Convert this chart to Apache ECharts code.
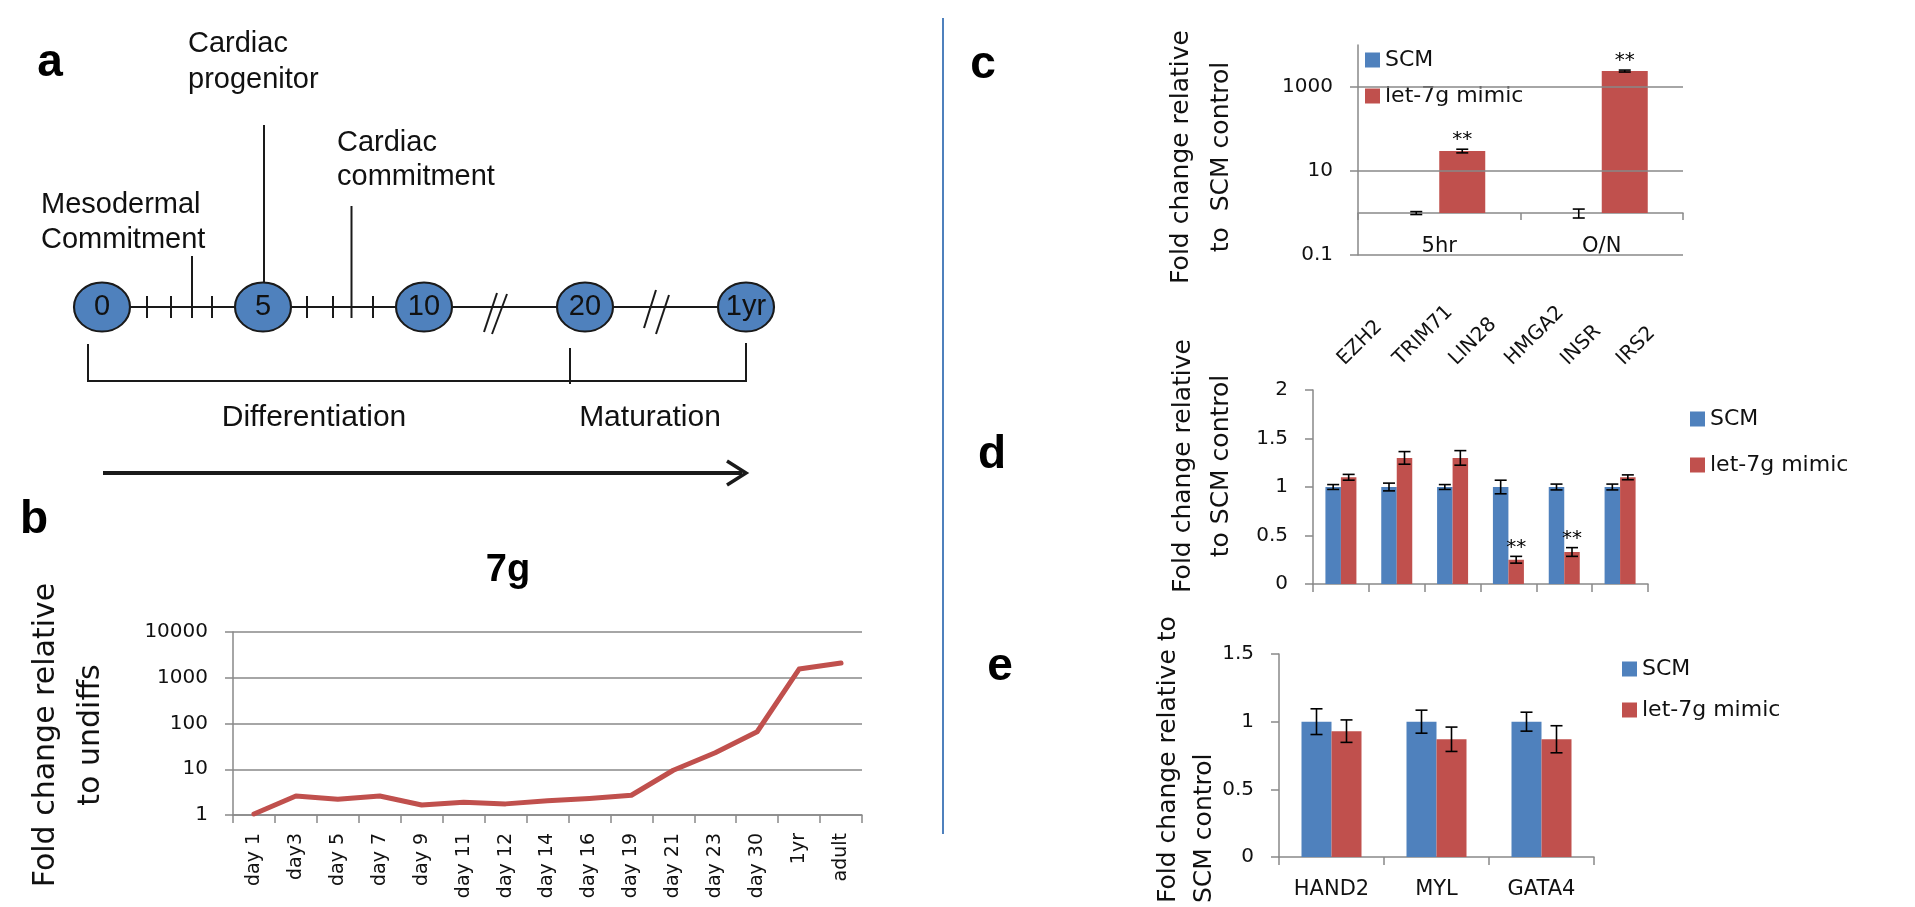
<!DOCTYPE html>
<html>
<head>
<meta charset="utf-8">
<script src="https://cdn.jsdelivr.net/npm/echarts@6/dist/echarts.min.js"></script>
<style>
  html, body { margin: 0; background: #fff; }
  #main { width: 1915px; height: 907px; }
</style>
</head>
<body>
<div id="main"></div>
<script>
// ---- data ----
// a: timeline stages
const stages = ['0', '5', '10', '20', '1yr']

// b: let-7g over differentiation
const days = ['day 1', 'day3', 'day 5', 'day 7', 'day 9', 'day 11', 'day 12', 'day 14', 'day 16', 'day 19', 'day 21', 'day 23', 'day 30', '1yr', 'adult']
const fold7g = [1.05, 2.6, 2.2, 2.6, 1.65, 1.9, 1.75, 2.05, 2.3, 2.7, 9.5, 23, 66, 1550, 2100]

// c: mimic transfection
const times = ['5hr', 'O/N']
const cScm = [1, 1]
const cScmErr = [0.08, 0.24]
const cMimic = [30, 2400]
const cMimicErr = [3, 130]
const cStars = ['**', '**']
const cGrid = [0.1, 10, 1000]

// d: let-7 targets
const genesD = ['EZH2', 'TRIM71', 'LIN28', 'HMGA2', 'INSR', 'IRS2']
const dScm = [1, 1, 1, 1, 1, 1]
const dScmErr = [0.025, 0.04, 0.025, 0.07, 0.03, 0.03]
const dMimic = [1.1, 1.3, 1.3, 0.25, 0.33, 1.1]
const dMimicErr = [0.03, 0.065, 0.075, 0.035, 0.045, 0.025]
const dStars = ['', '', '', '**', '**', '']

// e: cardiac markers
const genesE = ['HAND2', 'MYL', 'GATA4']
const eScm = [1, 1, 1]
const eScmErr = [0.095, 0.085, 0.07]
const eMimic = [0.93, 0.87, 0.87]
const eMimicErr = [0.083, 0.09, 0.1]
const noStars = ['', '', '', '', '', '']

const blue = '#4F81BD'
const red = '#C0504D'
const gray = '#898989'
const ink = '#111'
const arial = 'Liberation Sans, Arial, sans-serif'
const dv = 'DejaVu Sans, sans-serif'

const chart = echarts.init(document.getElementById('main'))

// error bars (+ significance stars) drawn through the axes of a grid
function errBars(xi, yi, vals, errs, stars, offset) {
    return {
        type: 'custom',
        xAxisIndex: xi,
        yAxisIndex: yi,
        z: 10,
        silent: true,
        data: vals.map((v, i) => [i, v, errs[i]]),
        encode: { x: 0, y: 1 },
        renderItem(params, api) {
            const i = api.value(0), v = api.value(1), e = api.value(2)
            const lo = api.coord([i, v - e])
            const hi = api.coord([i, v + e])
            const x = lo[0] + offset
            const st = { stroke: '#000', lineWidth: 1.6 }
            const kids = [
                { type: 'line', shape: { x1: x, y1: lo[1], x2: x, y2: hi[1] }, style: st },
                { type: 'line', shape: { x1: x - 6, y1: hi[1], x2: x + 6, y2: hi[1] }, style: st },
                { type: 'line', shape: { x1: x - 6, y1: lo[1], x2: x + 6, y2: lo[1] }, style: st }
            ]
            if (stars[params.dataIndex]) {
                kids.push({
                    type: 'text',
                    style: {
                        text: stars[params.dataIndex], x: x, y: hi[1] - 9,
                        align: 'center', verticalAlign: 'middle',
                        font: '20px ' + dv, fill: '#000'
                    }
                })
            }
            return { type: 'group', children: kids }
        }
    }
}

function line(x1, y1, x2, y2, w) {
    return { type: 'line', z: 1, shape: { x1, y1, x2, y2 }, style: { stroke: '#1a1a1a', lineWidth: w || 2 } }
}
function text(str, x, y, font, style) {
    return {
        type: 'text', x: x, y: y, z: 5,
        style: Object.assign({ text: str, font: font, fill: ink, align: 'left', verticalAlign: 'middle' }, style || {})
    }
}
function yTitle(str, x, y, size, lh, align) {
    return {
        type: 'text', x: x, y: y, rotation: Math.PI / 2, z: 5,
        style: { text: str, font: size + 'px ' + dv, fill: ink, align: align || 'center', verticalAlign: 'middle', lineHeight: lh }
    }
}

const axisLine = { show: true, lineStyle: { color: gray, width: 1.5 } }
const tick = { show: true, length: 8, lineStyle: { color: gray, width: 1.5 } }
const numLabel = { color: ink, fontFamily: dv, fontSize: 20, margin: 25 }
const letter = { align: 'center', fill: '#000' }

// schematic pieces of panel a, the blue divider and panel letters
const graphics = [
    // divider
    { type: 'line', shape: { x1: 943, y1: 18, x2: 943, y2: 834 }, style: { stroke: blue, lineWidth: 2 } },
    // timeline base
    line(102, 307, 746, 307),
    // small ticks
    line(147, 296, 147, 318), line(171, 296, 171, 318), line(212, 296, 212, 318),
    line(307, 296, 307, 318), line(333, 296, 333, 318), line(373, 296, 373, 318),
    // event lines
    line(192, 256, 192, 318), line(264, 125, 264, 300), line(351.5, 206, 351.5, 318),
    // break marks
    line(484, 332, 497, 293), line(492, 334, 507, 294),
    line(644, 328, 656, 290), line(656, 334, 669, 295),
    // bracket
    { type: 'polyline', z: 1, shape: { points: [[88, 344], [88, 381], [746, 381], [746, 343]] }, style: { stroke: '#1a1a1a', lineWidth: 2, fill: null } },
    line(570, 348, 570, 384),
    // arrow
    line(103, 473, 742, 473, 4),
    { type: 'polyline', z: 1, shape: { points: [[727, 461], [746, 473], [727, 485]] }, style: { stroke: '#1a1a1a', lineWidth: 3.5, fill: null } },
    // labels
    text('Cardiac\nprogenitor', 188, 62, '29px ' + arial, { lineHeight: 36 }),
    text('Cardiac\ncommitment', 337, 160, '29px ' + arial, { lineHeight: 34 }),
    text('Mesodermal\nCommitment', 41, 222, '29px ' + arial, { lineHeight: 35 }),
    text('Differentiation', 314, 418, '30px ' + arial, { align: 'center' }),
    text('Maturation', 650, 418, '30px ' + arial, { align: 'center' }),
    // panel letters
    text('a', 50, 63, 'bold 46px ' + arial, letter),
    text('b', 34, 520, 'bold 46px ' + arial, letter),
    text('c', 983, 65, 'bold 46px ' + arial, letter),
    text('d', 992, 455, 'bold 46px ' + arial, letter),
    text('e', 1000, 667, 'bold 46px ' + arial, letter),
    // b title
    text('7g', 508, 571, 'bold 38px ' + arial, letter),
    // y titles
    yTitle('Fold change relative\nto undiffs', 69, 735, 30, 45),
    yTitle('Fold change relative\nto  SCM control', 1201, 157, 25, 40),
    yTitle('Fold change relative\nto SCM control', 1202, 466, 25, 38),
    yTitle('Fold change relative to\nSCM control', 1186, 903, 25, 36, 'left')
]

const legendBase = {
    orient: 'vertical',
    icon: 'rect',
    itemWidth: 15,
    itemHeight: 15,
    padding: 0,
    selectedMode: false,
    data: ['SCM', 'let-7g mimic'],
    textStyle: { color: ink, fontFamily: dv, fontSize: 22 }
}

chart.setOption({
    animation: false,
    backgroundColor: '#fff',
    graphic: graphics,
    legend: [
        Object.assign({}, legendBase, { left: 1365, top: 47, itemGap: 14, padding: [2, 6, 2, 0], backgroundColor: '#fff' }),
        Object.assign({}, legendBase, { left: 1690, top: 408, itemGap: 24 }),
        Object.assign({}, legendBase, { left: 1622, top: 658, itemGap: 19 })
    ],
    grid: [
        { left: 102, top: 257, width: 644, height: 100 },   // a
        { left: 233, top: 632, width: 629, height: 183 },   // b
        { left: 1358, top: 45, width: 325, height: 210 },   // c
        { left: 1313, top: 390, width: 335, height: 194 },  // d
        { left: 1279, top: 654, width: 315, height: 203 }   // e
    ],
    xAxis: [
        { gridIndex: 0, type: 'category', data: stages, boundaryGap: false, show: false },
        {
            gridIndex: 1, type: 'category', data: days,
            axisLine: axisLine, axisTick: tick,
            axisLabel: { interval: 0, rotate: 90, margin: 18, color: ink, fontFamily: dv, fontSize: 19 }
        },
        {
            gridIndex: 2, type: 'category', data: times, offset: -42,
            axisLine: { show: true, onZero: false, lineStyle: { color: gray, width: 1.5 } },
            axisTick: Object.assign({}, tick, { length: 7 }),
            axisLabel: { color: ink, fontFamily: dv, fontSize: 21, margin: 23 }
        },
        {
            gridIndex: 3, type: 'category', data: genesD,
            axisLine: axisLine, axisTick: tick, axisLabel: { show: false }
        },
        {
            gridIndex: 3, type: 'category', data: genesD, position: 'top',
            axisLine: { show: false }, axisTick: { show: false },
            axisLabel: { interval: 0, rotate: -45, margin: 28, color: ink, fontFamily: dv, fontSize: 20 }
        },
        {
            gridIndex: 4, type: 'category', data: genesE,
            axisLine: axisLine, axisTick: tick,
            axisLabel: { color: ink, fontFamily: dv, fontSize: 21, margin: 22 }
        }
    ],
    yAxis: [
        { gridIndex: 0, type: 'value', min: -1, max: 1, show: false },
        {
            gridIndex: 1, type: 'log', logBase: 10, min: 1, max: 10000,
            axisLine: axisLine, axisTick: tick,
            splitLine: { show: true, lineStyle: { color: gray, width: 1.5 } },
            axisLabel: { color: ink, fontFamily: dv, fontSize: 20, margin: 25, formatter: v => String(v) }
        },
        {
            gridIndex: 2, type: 'log', logBase: 10, min: 0.1, max: 10000,
            axisLine: axisLine,
            axisTick: Object.assign({}, tick, { customValues: cGrid }),
            splitLine: { show: false },
            axisLabel: Object.assign({}, numLabel, {
                customValues: cGrid,
                formatter: v => (cGrid.indexOf(v) >= 0 ? String(v) : '')
            })
        },
        {
            gridIndex: 3, type: 'value', min: 0, max: 2, interval: 0.5,
            axisLine: axisLine, axisTick: tick, splitLine: { show: false }, axisLabel: numLabel
        },
        {
            gridIndex: 4, type: 'value', min: 0, max: 1.5, interval: 0.5,
            axisLine: axisLine, axisTick: tick, splitLine: { show: false }, axisLabel: numLabel
        }
    ],
    series: [
        {
            name: 'stages', type: 'scatter', xAxisIndex: 0, yAxisIndex: 0, z: 3,
            data: stages.map(() => 0),
            symbol: 'path://M0,1A1,1,0,1,1,2,1A1,1,0,1,1,0,1Z',
            symbolSize: [56, 49],
            itemStyle: { color: blue, borderColor: '#1a1a1a', borderWidth: 2, opacity: 1 },
            label: { show: true, position: 'inside', formatter: '{b}', color: ink, fontFamily: arial, fontSize: 29 }
        },
        {
            name: '7g', type: 'line', xAxisIndex: 1, yAxisIndex: 1,
            data: fold7g, symbol: 'none',
            lineStyle: { color: red, width: 5, join: 'round', cap: 'round' }
        },
        // c
        {
            name: 'SCM', type: 'bar', xAxisIndex: 2, yAxisIndex: 2,
            data: cScm, barWidth: 46, barGap: '0%', itemStyle: { color: blue }
        },
        {
            name: 'let-7g mimic', type: 'bar', xAxisIndex: 2, yAxisIndex: 2,
            data: cMimic, barWidth: 46, barGap: '0%', itemStyle: { color: red },
            markLine: {
                silent: true, symbol: ['none', 'none'], label: { show: false },
                lineStyle: { color: gray, width: 1.5, type: 'solid' },
                data: cGrid.map(v => ({ yAxis: v }))
            }
        },
        errBars(2, 2, cScm, cScmErr, noStars, -23),
        errBars(2, 2, cMimic, cMimicErr, cStars, 23),
        // d
        {
            name: 'SCM', type: 'bar', xAxisIndex: 3, yAxisIndex: 3,
            data: dScm, barWidth: 15.5, barGap: '0%', itemStyle: { color: blue }
        },
        {
            name: 'let-7g mimic', type: 'bar', xAxisIndex: 3, yAxisIndex: 3,
            data: dMimic, barWidth: 15.5, barGap: '0%', itemStyle: { color: red }
        },
        errBars(3, 3, dScm, dScmErr, noStars, -7.75),
        errBars(3, 3, dMimic, dMimicErr, dStars, 7.75),
        // e
        {
            name: 'SCM', type: 'bar', xAxisIndex: 5, yAxisIndex: 4,
            data: eScm, barWidth: 30, barGap: '0%', itemStyle: { color: blue }
        },
        {
            name: 'let-7g mimic', type: 'bar', xAxisIndex: 5, yAxisIndex: 4,
            data: eMimic, barWidth: 30, barGap: '0%', itemStyle: { color: red }
        },
        errBars(5, 4, eScm, eScmErr, noStars, -15),
        errBars(5, 4, eMimic, eMimicErr, noStars, 15)
    ]
})
</script>
</body>
</html>
